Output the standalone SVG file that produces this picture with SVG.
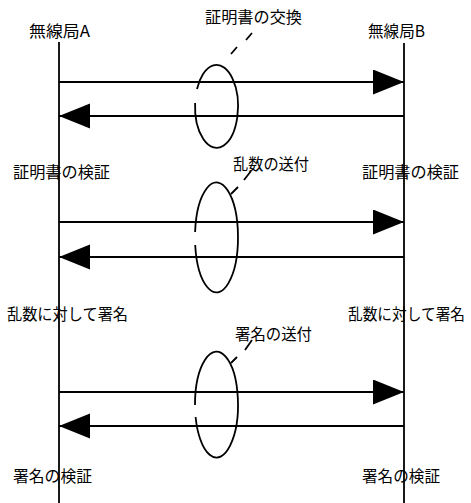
<svg xmlns="http://www.w3.org/2000/svg" width="471" height="503" viewBox="0 0 471 503">
<style>
text{font-family:"Noto Sans CJK JP","Noto Sans",sans-serif;font-size:15.5px;fill:#000}
.life{stroke:#000;stroke-width:1.8;fill:none}
.msg{stroke:#000;stroke-width:1.8;fill:none}
.oval{stroke:#000;stroke-width:1.8;fill:none}
.lead{stroke:#000;stroke-width:1.8;fill:none}
</style>
<defs>
<marker id="ah" markerUnits="userSpaceOnUse" markerWidth="32" markerHeight="26" refX="31" refY="12.5" orient="auto">
<path d="M0 0 L31 12.5 L0 25 Z" fill="#000"/>
</marker>
</defs>
<g id="stationA">
<text x="29" y="37" textLength="61" lengthAdjust="spacingAndGlyphs">無線局A</text>
<line class="life" x1="59" y1="42" x2="59" y2="503"/>
</g>
<g id="stationB">
<text x="368" y="37" textLength="57" lengthAdjust="spacingAndGlyphs">無線局B</text>
<line class="life" x1="404" y1="43" x2="404" y2="503"/>
</g>
<g id="exchange-cert">
<text x="205" y="23" textLength="97" lengthAdjust="spacingAndGlyphs">証明書の交換</text>
<path class="lead" d="M231 54 L237 47 M246 40 L252 33"/>
<path class="oval" d="M197 89 A21.5 41.5 0 1 1 195.1 103"/>
</g>
<g id="verify-cert-A"><text x="13" y="178" textLength="97" lengthAdjust="spacingAndGlyphs">証明書の検証</text></g>
<g id="verify-cert-B"><text x="362" y="178" textLength="97" lengthAdjust="spacingAndGlyphs">証明書の検証</text></g>
<g id="send-random">
<text x="233" y="170" textLength="76" lengthAdjust="spacingAndGlyphs">乱数の送付</text>
<path class="lead" d="M231 194 L238 187 M244 180 L251 171"/>
<path class="oval" d="M195.1 232 A21.5 55 0 1 1 195.2 245"/>
</g>
<g id="sign-A"><text x="7" y="320" textLength="121" lengthAdjust="spacingAndGlyphs">乱数に対して署名</text></g>
<g id="sign-B"><text x="348" y="320" textLength="117" lengthAdjust="spacingAndGlyphs">乱数に対して署名</text></g>
<g id="send-sign">
<text x="235" y="340" textLength="77" lengthAdjust="spacingAndGlyphs">署名の送付</text>
<path class="lead" d="M231 363 L237 357 M245 350 L252 340"/>
<path class="oval" d="M195 405 A21.5 53 0 1 1 195.6 417"/>
</g>
<g id="verify-sign-A"><text x="13" y="482" textLength="79" lengthAdjust="spacingAndGlyphs">署名の検証</text></g>
<g id="verify-sign-B"><text x="362" y="482" textLength="78" lengthAdjust="spacingAndGlyphs">署名の検証</text></g>
<g id="connectors">
<line class="msg" x1="59" y1="82" x2="404" y2="82" marker-end="url(#ah)"/>
<line class="msg" x1="404" y1="116" x2="59" y2="116" marker-end="url(#ah)"/>
<line class="msg" x1="59" y1="222" x2="404" y2="222" marker-end="url(#ah)"/>
<line class="msg" x1="404" y1="257" x2="59" y2="257" marker-end="url(#ah)"/>
<line class="msg" x1="59" y1="392" x2="404" y2="392" marker-end="url(#ah)"/>
<line class="msg" x1="404" y1="426" x2="59" y2="426" marker-end="url(#ah)"/>
</g>
</svg>
